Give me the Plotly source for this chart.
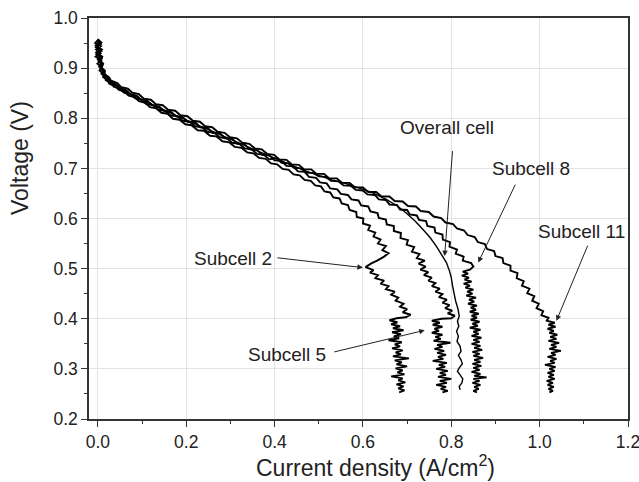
import plotly.graph_objects as go

# ---- data: (current density A/cm2, voltage V) ----
subcell2 = [
    (0.001,0.957),(-0.006,0.95),(0.007,0.944),(-0.004,0.937),(0.006,0.93),(-0.005,0.923),(0.008,0.916),
    (-0.001,0.909),(0.009,0.902),(0.004,0.895),(0.013,0.889),(0.012,0.882),(0.022,0.876),(0.026,0.869),
    (0.04,0.864),(0.047,0.857),(0.06,0.853),(0.07,0.845),(0.083,0.842),(0.093,0.834),(0.107,0.831),
    (0.118,0.822),(0.132,0.82),(0.144,0.811),(0.158,0.809),(0.17,0.799),(0.185,0.797),(0.198,0.788),
    (0.212,0.786),(0.226,0.776),(0.24,0.775),(0.254,0.765),(0.268,0.764),(0.282,0.754),(0.297,0.752),
    (0.31,0.743),(0.325,0.741),(0.338,0.732),(0.352,0.73),(0.365,0.721),(0.38,0.719),(0.392,0.71),
    (0.406,0.708),(0.418,0.699),(0.432,0.697),(0.443,0.688),(0.457,0.686),(0.468,0.677),(0.482,0.675),
    (0.492,0.666),(0.505,0.664),(0.513,0.654),(0.526,0.652),(0.533,0.642),(0.547,0.64),(0.552,0.63),
    (0.566,0.627),(0.57,0.617),(0.585,0.613),(0.586,0.603),(0.601,0.6),(0.6,0.59),(0.616,0.586),
    (0.612,0.577),(0.628,0.572),(0.624,0.564),(0.64,0.558),(0.634,0.55),(0.652,0.545),(0.644,0.537),
    (0.658,0.531),(0.648,0.524),(0.632,0.516),(0.618,0.51),(0.606,0.503),(0.624,0.497),(0.616,0.492),
    (0.634,0.487),(0.628,0.481),(0.648,0.476),(0.64,0.47),(0.658,0.465),(0.652,0.459),(0.672,0.454),
    (0.664,0.448),(0.68,0.442),(0.674,0.436),(0.692,0.43),(0.684,0.424),(0.7,0.419),(0.69,0.413),
    (0.708,0.408),(0.697,0.403),(0.676,0.401),(0.66,0.397),(0.678,0.393),(0.664,0.389),(0.684,0.385),
    (0.668,0.381),(0.692,0.377),(0.666,0.373),(0.686,0.369),(0.67,0.365),(0.682,0.361),(0.658,0.357),
    (0.688,0.353),(0.672,0.349),(0.684,0.345),(0.666,0.341),(0.69,0.337),(0.674,0.333),(0.686,0.329),
    (0.668,0.325),(0.704,0.321),(0.672,0.317),(0.688,0.313),(0.676,0.309),(0.7,0.305),(0.674,0.301),
    (0.69,0.297),(0.678,0.293),(0.694,0.289),(0.664,0.285),(0.69,0.281),(0.68,0.277),(0.696,0.273),
    (0.676,0.269),(0.692,0.265),(0.68,0.261),(0.694,0.257),(0.682,0.253),
]

subcell5 = [
    (0.0,0.955),(0.007,0.948),(-0.004,0.941),(0.008,0.934),(-0.003,0.927),(0.009,0.92),(0.002,0.913),
    (0.011,0.906),(0.006,0.899),(0.015,0.892),(0.014,0.885),(0.024,0.879),(0.028,0.872),
    (0.042,0.867),(0.05,0.86),(0.064,0.856),(0.074,0.848),(0.088,0.845),(0.098,0.837),(0.113,0.834),
    (0.124,0.826),(0.139,0.823),(0.15,0.815),(0.165,0.813),(0.177,0.804),(0.192,0.802),(0.204,0.793),
    (0.22,0.792),(0.232,0.782),(0.248,0.781),(0.26,0.771),(0.276,0.77),(0.288,0.76),(0.304,0.759),
    (0.316,0.749),(0.332,0.748),(0.344,0.738),(0.36,0.737),(0.372,0.727),(0.388,0.726),(0.4,0.716),
    (0.415,0.715),(0.427,0.705),(0.442,0.704),(0.453,0.694),(0.468,0.693),(0.478,0.683),(0.494,0.681),
    (0.503,0.672),(0.518,0.67),(0.526,0.66),(0.542,0.658),(0.55,0.649),(0.566,0.647),(0.574,0.638),
    (0.59,0.636),(0.596,0.626),(0.612,0.624),(0.617,0.614),(0.633,0.611),(0.636,0.601),(0.652,0.598),
    (0.654,0.588),(0.67,0.585),(0.67,0.575),(0.686,0.571),(0.685,0.561),(0.702,0.557),(0.699,0.548),
    (0.716,0.543),(0.711,0.534),(0.728,0.529),(0.722,0.521),(0.74,0.516),(0.726,0.51),(0.742,0.504),
    (0.73,0.498),(0.748,0.493),(0.738,0.487),(0.756,0.482),(0.748,0.476),(0.764,0.471),(0.756,0.465),
    (0.774,0.46),(0.764,0.454),(0.78,0.449),(0.772,0.443),(0.79,0.438),(0.78,0.432),(0.796,0.427),
    (0.786,0.421),(0.802,0.416),(0.792,0.411),(0.808,0.406),(0.8,0.401),(0.778,0.4),(0.756,0.396),
    (0.774,0.392),(0.758,0.388),(0.78,0.384),(0.762,0.38),(0.772,0.376),(0.756,0.372),(0.78,0.368),
    (0.764,0.364),(0.776,0.36),(0.76,0.356),(0.798,0.352),(0.768,0.348),(0.78,0.344),(0.762,0.34),
    (0.784,0.336),(0.768,0.332),(0.788,0.328),(0.77,0.324),(0.782,0.32),(0.758,0.316),(0.79,0.312),
    (0.772,0.308),(0.786,0.304),(0.766,0.3),(0.792,0.296),(0.774,0.292),(0.788,0.288),(0.77,0.284),
    (0.8,0.28),(0.774,0.276),(0.79,0.272),(0.766,0.268),(0.788,0.264),(0.776,0.26),(0.792,0.256),
    (0.78,0.253),
]

overall = [
    (0.0,0.95),(0.002,0.935),(0.004,0.92),(0.008,0.905),(0.013,0.892),(0.022,0.879),(0.035,0.868),
    (0.055,0.857),(0.08,0.845),(0.11,0.832),(0.14,0.82),(0.17,0.808),(0.2,0.796),(0.23,0.785),
    (0.26,0.774),(0.29,0.762),(0.32,0.75),(0.35,0.739),(0.38,0.728),(0.41,0.717),(0.44,0.706),
    (0.47,0.695),(0.5,0.686),(0.53,0.677),(0.56,0.67),(0.585,0.663),(0.62,0.652),(0.653,0.638),
    (0.678,0.625),(0.698,0.611),(0.718,0.595),(0.736,0.578),(0.752,0.562),(0.766,0.545),(0.778,0.528),
    (0.789,0.512),(0.796,0.495),(0.8,0.482),(0.803,0.465),(0.806,0.45),(0.81,0.435),(0.815,0.42),
    (0.818,0.405),(0.814,0.395),(0.817,0.385),(0.812,0.375),(0.816,0.365),(0.813,0.355),(0.82,0.345),
    (0.822,0.335),(0.816,0.327),(0.822,0.318),(0.825,0.31),(0.818,0.302),(0.814,0.295),(0.82,0.288),
    (0.826,0.28),(0.824,0.272),(0.818,0.265),(0.82,0.258),
]

subcell8 = [
    (0.002,0.952),(-0.005,0.945),(0.006,0.938),(-0.004,0.931),(0.007,0.924),(0.0,0.917),(0.009,0.91),
    (0.003,0.903),(0.011,0.896),(0.008,0.889),(0.017,0.883),(0.018,0.876),(0.03,0.87),
    (0.036,0.863),(0.05,0.859),(0.059,0.851),(0.074,0.848),(0.084,0.84),(0.099,0.837),(0.11,0.828),
    (0.126,0.826),(0.137,0.817),(0.152,0.815),(0.164,0.806),(0.18,0.804),(0.192,0.795),(0.208,0.793),
    (0.22,0.784),(0.236,0.782),(0.248,0.773),(0.264,0.771),(0.276,0.762),(0.292,0.76),(0.304,0.751),
    (0.32,0.749),(0.332,0.74),(0.348,0.738),(0.36,0.729),(0.376,0.727),(0.388,0.718),(0.404,0.72),
    (0.416,0.711),(0.432,0.71),(0.444,0.701),(0.46,0.7),(0.472,0.691),(0.488,0.691),(0.5,0.684),
    (0.516,0.683),(0.528,0.675),(0.545,0.674),(0.556,0.666),(0.573,0.665),(0.584,0.657),(0.6,0.656),
    (0.61,0.648),(0.627,0.647),(0.636,0.638),(0.652,0.637),(0.66,0.628),(0.677,0.627),(0.684,0.618),
    (0.7,0.617),(0.706,0.608),(0.722,0.606),(0.727,0.597),(0.743,0.595),(0.746,0.585),(0.762,0.582),
    (0.764,0.572),(0.78,0.568),(0.781,0.558),(0.797,0.553),(0.796,0.544),(0.813,0.538),(0.81,0.53),
    (0.828,0.524),(0.826,0.516),(0.845,0.511),(0.85,0.504),(0.842,0.498),(0.826,0.494),(0.838,0.49),
    (0.824,0.486),(0.84,0.482),(0.83,0.478),(0.846,0.474),(0.828,0.47),(0.842,0.466),(0.832,0.462),
    (0.85,0.458),(0.836,0.454),(0.848,0.45),(0.834,0.446),(0.856,0.442),(0.84,0.438),(0.852,0.434),
    (0.838,0.43),(0.858,0.426),(0.844,0.422),(0.856,0.418),(0.842,0.414),(0.862,0.41),(0.846,0.406),
    (0.858,0.402),(0.844,0.398),(0.864,0.394),(0.848,0.39),(0.86,0.386),(0.842,0.382),(0.866,0.378),
    (0.85,0.374),(0.862,0.37),(0.846,0.366),(0.868,0.362),(0.85,0.358),(0.864,0.354),(0.846,0.35),
    (0.866,0.346),(0.852,0.342),(0.87,0.338),(0.848,0.334),(0.864,0.33),(0.85,0.326),(0.872,0.322),
    (0.852,0.318),(0.866,0.314),(0.848,0.31),(0.868,0.306),(0.85,0.302),(0.864,0.298),(0.846,0.294),
    (0.866,0.29),(0.852,0.286),(0.88,0.283),(0.85,0.28),(0.864,0.276),(0.848,0.272),(0.866,0.268),
    (0.852,0.264),(0.862,0.26),(0.85,0.256),(0.858,0.253),
]

subcell11 = [
    (0.0,0.958),(0.008,0.951),(-0.003,0.944),(0.009,0.937),(-0.001,0.93),(0.01,0.923),(0.004,0.916),
    (0.012,0.909),(0.007,0.902),(0.016,0.895),(0.015,0.888),(0.025,0.882),(0.03,0.875),
    (0.044,0.87),(0.053,0.862),(0.068,0.859),(0.078,0.851),(0.093,0.848),(0.104,0.839),(0.12,0.837),
    (0.131,0.828),(0.147,0.826),(0.159,0.817),(0.175,0.815),(0.187,0.806),(0.203,0.804),(0.215,0.795),
    (0.231,0.793),(0.243,0.784),(0.259,0.782),(0.271,0.773),(0.287,0.771),(0.299,0.762),(0.315,0.76),
    (0.327,0.751),(0.343,0.749),(0.355,0.74),(0.371,0.738),(0.383,0.729),(0.399,0.727),(0.411,0.718),
    (0.427,0.717),(0.439,0.708),(0.455,0.707),(0.467,0.698),(0.483,0.698),(0.495,0.689),(0.512,0.689),
    (0.524,0.68),(0.541,0.68),(0.553,0.671),(0.57,0.671),(0.582,0.662),(0.6,0.662),(0.612,0.653),
    (0.63,0.653),(0.642,0.644),(0.66,0.644),(0.672,0.635),(0.69,0.634),(0.702,0.625),(0.72,0.624),
    (0.731,0.615),(0.749,0.613),(0.76,0.604),(0.777,0.601),(0.787,0.592),(0.804,0.589),(0.813,0.58),
    (0.829,0.576),(0.837,0.567),(0.853,0.563),(0.86,0.553),(0.876,0.549),(0.881,0.539),(0.897,0.535),
    (0.9,0.525),(0.916,0.521),(0.918,0.511),(0.934,0.506),(0.934,0.496),(0.95,0.491),(0.948,0.481),
    (0.964,0.475),(0.96,0.466),(0.977,0.46),(0.972,0.451),(0.988,0.445),(0.983,0.436),(0.998,0.43),
    (0.993,0.421),(1.008,0.415),(1.004,0.407),(1.02,0.402),(1.016,0.396),(1.034,0.392),(1.02,0.388),
    (1.036,0.384),(1.018,0.38),(1.032,0.376),(1.022,0.372),(1.04,0.368),(1.024,0.364),(1.038,0.36),
    (1.02,0.356),(1.044,0.352),(1.026,0.348),(1.038,0.344),(1.022,0.34),(1.048,0.336),(1.026,0.332),
    (1.036,0.328),(1.018,0.324),(1.038,0.32),(1.024,0.316),(1.034,0.312),(1.012,0.308),(1.036,0.304),
    (1.022,0.3),(1.034,0.296),(1.018,0.292),(1.032,0.288),(1.02,0.284),(1.034,0.28),(1.016,0.276),
    (1.03,0.272),(1.018,0.268),(1.032,0.264),(1.02,0.26),(1.03,0.256),(1.022,0.253),
]

x_ticks = [0.0, 0.2, 0.4, 0.6, 0.8, 1.0, 1.2]
y_ticks = [0.2, 0.3, 0.4, 0.5, 0.6, 0.7, 0.8, 0.9, 1.0]
x_title = "Current density (A/cm<sup>2</sup>)"
y_title = "Voltage (V)"

# label text, text position (data), arrow tip (data), arrow start offset (px)
labels = ["Subcell 2", "Subcell 5", "Overall cell", "Subcell 8", "Subcell 11"]
label_x = [0.305, 0.429, 0.79, 0.98, 1.095]
label_y = [0.52, 0.329, 0.781, 0.70, 0.574]
tip_x = [0.60, 0.74, 0.785, 0.861, 1.038]
tip_y = [0.502, 0.377, 0.525, 0.512, 0.396]
arrow_ax = [-87, -92, 8, 38, 32]
arrow_ay = [-10, 22, -107, -80, -77]

FONT = "Liberation Sans, Arial, sans-serif"

fig = go.Figure()
series = [("Subcell 2", subcell2, 1.9), ("Subcell 5", subcell5, 1.9),
          ("Subcell 8", subcell8, 1.9), ("Subcell 11", subcell11, 1.9),
          ("Overall cell", overall, 1.4)]
for name, pts, w in series:
    fig.add_trace(go.Scatter(
        x=[p[0] for p in pts], y=[p[1] for p in pts], mode="lines", name=name,
        line=dict(color="black", width=w), showlegend=False, hoverinfo="skip"))

for t, lx, ly in zip(labels, label_x, label_y):
    fig.add_annotation(x=lx, y=ly, text=t, showarrow=False,
                       font=dict(family=FONT, size=19, color="#222"))
for tx, ty, ax, ay in zip(tip_x, tip_y, arrow_ax, arrow_ay):
    fig.add_annotation(x=tx, y=ty, text=" ", showarrow=True, ax=ax, ay=ay,
                       arrowhead=2, arrowsize=1.1, arrowwidth=1, arrowcolor="#222",
                       font=dict(size=1))

# axis titles (placed as in the reference, slightly off-centre)
fig.add_annotation(xref="paper", yref="paper", x=0.531, y=-0.117, text=x_title,
                   showarrow=False, xanchor="center", yanchor="middle",
                   font=dict(family=FONT, size=23, color="#222"))
fig.add_annotation(xref="paper", yref="paper", x=-0.128, y=0.651, text=y_title,
                   showarrow=False, xanchor="center", yanchor="middle", textangle=-90,
                   font=dict(family=FONT, size=23, color="#222"))

axis_common = dict(
    showline=True, linecolor="#333", linewidth=1.5, mirror=True,
    ticks="outside", ticklen=6, tickwidth=1.2, tickcolor="#333",
    showgrid=True, gridcolor="#e3e3e3", gridwidth=1, zeroline=False,
    tickfont=dict(family=FONT, size=17.5, color="#222"),
    ticklabeloverflow="allow",
)

fig.update_xaxes(
    range=[-0.02, 1.2], tickvals=x_ticks, ticktext=[f"{v:.1f}" for v in x_ticks],
    minor=dict(dtick=0.1, tick0=0, ticks="outside", ticklen=3, tickcolor="#333", showgrid=False),
    **axis_common)
fig.update_yaxes(
    range=[0.2, 1.0], tickvals=y_ticks, ticktext=[f"{v:.1f}" for v in y_ticks],
    minor=dict(dtick=0.05, tick0=0, ticks="outside", ticklen=3, tickcolor="#333", showgrid=False),
    **axis_common)

fig.update_layout(
    width=639, height=482,
    margin=dict(l=89, r=11, t=18, b=63, autoexpand=False),
    paper_bgcolor="white", plot_bgcolor="white",
)

fig.write_html("out.html", config={"displayModeBar": False},
               post_script="document.body.style.margin='0';document.body.style.overflow='hidden';")
